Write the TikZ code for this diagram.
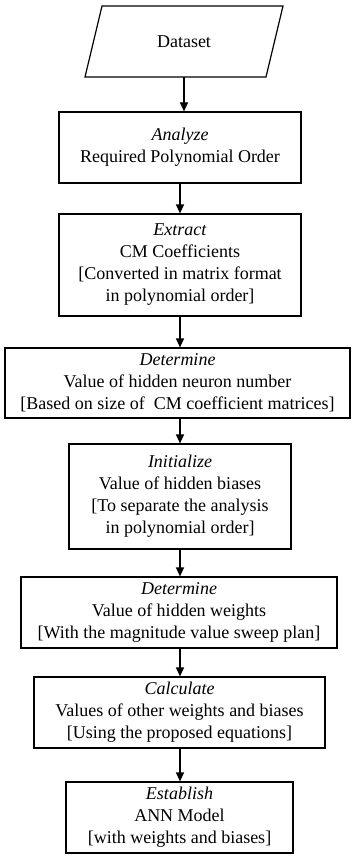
\documentclass[tikz,border=0pt]{standalone}
\usepackage{fontspec}
\setmainfont{Liberation Serif}
\usetikzlibrary{arrows.meta}
\tikzset{
  box/.style={draw=black, line width=1.2pt, inner sep=0pt, align=center,
    font=\fontsize{18}{22}\selectfont},
  flow/.style={line width=1.2pt, -{Triangle[length=9pt,width=8pt]}},
  lbl/.style={inner sep=0pt, align=center, font=\fontsize{18}{22}\selectfont}
}
\begin{document}
\begin{tikzpicture}[x=1pt,y=-1pt]
\useasboundingbox (0,0) rectangle (352,856);
% Dataset parallelogram
\draw[line width=1.2pt, line join=miter] (102,6) -- (283,6) -- (266,77) -- (85,77) -- cycle;
\node[lbl] (ds) at (184,42) {Dataset};
\coordinate (dsb) at (184,77);

\node[box, minimum width=242pt, minimum height=71pt] (b1) at (180,147.5)
  {\textit{Analyze}\\Required Polynomial Order};
\node[box, minimum width=242pt, minimum height=102pt] (b2) at (180,265)
  {\textit{Extract}\\CM Coefficients\\{[}Converted in matrix format\\in polynomial order{]}};
\node[box, minimum width=345pt, minimum height=70pt] (b3) at (177.5,383)
  {\textit{Determine}\\Value of hidden neuron number\\{[}Based on size of\ \ CM coefficient matrices{]}};
\node[box, minimum width=222pt, minimum height=105pt] (b4) at (180,496.5)
  {\textit{Initialize}\\Value of hidden biases\\{[}To separate the analysis\\in polynomial order{]}};
\node[box, minimum width=316pt, minimum height=71pt] (b5) at (179,612.5)
  {\textit{Determine}\\Value of hidden weights\\{[}With the magnitude value sweep plan{]}};
\node[box, minimum width=291pt, minimum height=71pt] (b6) at (179.5,712.5)
  {\textit{Calculate}\\Values of other weights and biases\\{[}Using the proposed equations{]}};
\node[box, minimum width=227pt, minimum height=71pt] (b7) at (179.5,817.5)
  {\textit{Establish}\\ANN Model\\{[}with weights and biases{]}};

\draw[flow] (dsb) -- (dsb |- b1.north);
\draw[flow] (b1.south -| 180,0) -- (b2.north -| 180,0);
\draw[flow] (b2.south -| 180,0) -- (b3.north -| 180,0);
\draw[flow] (b3.south -| 180,0) -- (b4.north -| 180,0);
\draw[flow] (b4.south -| 180,0) -- (b5.north -| 180,0);
\draw[flow] (b5.south -| 180,0) -- (b6.north -| 180,0);
\draw[flow] (b6.south -| 180,0) -- (b7.north -| 180,0);
\end{tikzpicture}
\end{document}
